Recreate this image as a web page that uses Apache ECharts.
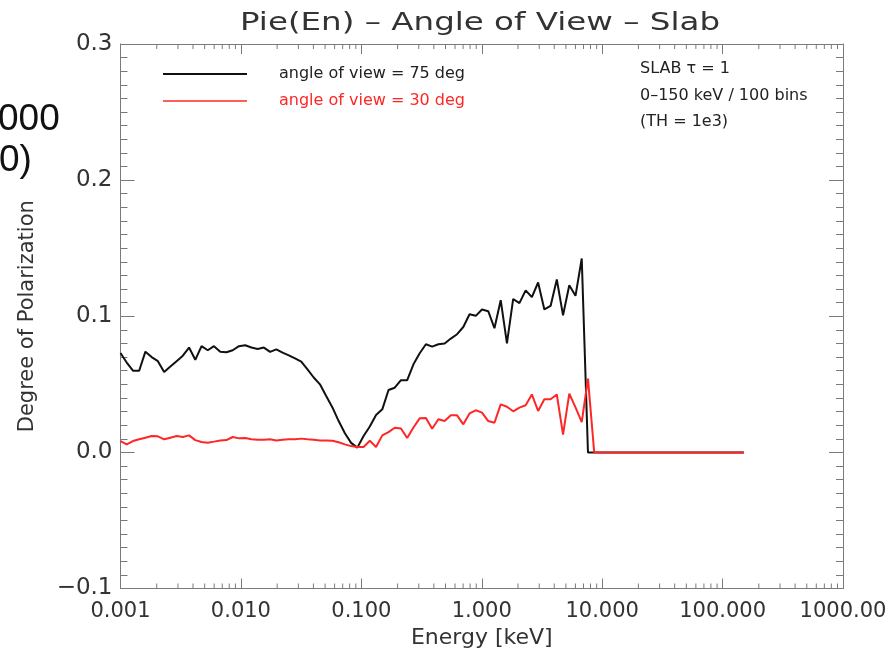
<!DOCTYPE html>
<html>
<head>
<meta charset="utf-8">
<script src="https://cdn.jsdelivr.net/npm/echarts@6/dist/echarts.min.js"></script>
<style>
  html, body { margin: 0; padding: 0; background: #ffffff; }
  #chart { width: 892px; height: 655px; }
</style>
</head>
<body>
<div id="chart"></div>
<script>
// Energy grid [keV]: 101 log-spaced points from 1e-3 to 150 keV
const energy = [
  0.001, 0.001126, 0.001269, 0.001429, 0.00161, 0.001814, 0.002044, 0.002303, 0.002595, 0.002923,
  0.003293, 0.00371, 0.00418, 0.004709, 0.005305, 0.005976, 0.006733, 0.007585, 0.008546, 0.009627,
  0.01085, 0.01222, 0.01377, 0.01551, 0.01747, 0.01968, 0.02217, 0.02498, 0.02814, 0.0317,
  0.03572, 0.04024, 0.04533, 0.05107, 0.05754, 0.06482, 0.07303, 0.08227, 0.09268, 0.1044,
  0.1176, 0.1325, 0.1493, 0.1682, 0.1895, 0.2134, 0.2404, 0.2709, 0.3052, 0.3438,
  0.3873, 0.4363, 0.4916, 0.5538, 0.6239, 0.7029, 0.7918, 0.892, 1.005, 1.132,
  1.275, 1.437, 1.619, 1.824, 2.055, 2.315, 2.608, 2.938, 3.31, 3.729,
  4.201, 4.733, 5.332, 6.006, 6.767, 7.623, 8.588, 9.674, 10.9, 12.28,
  13.83, 15.58, 17.55, 19.78, 22.28, 25.1, 28.28, 31.86, 35.89, 40.44,
  45.55, 51.32, 57.81, 65.13, 73.37, 82.66, 93.12, 104.9, 118.2, 133.1,
  150
];

// Degree of polarization, angle of view = 75 deg
const pol75 = [
  0.073, 0.066, 0.060, 0.060, 0.074, 0.070, 0.067, 0.059, 0.063, 0.067,
  0.071, 0.077, 0.068, 0.078, 0.075, 0.078, 0.074, 0.0735, 0.075, 0.078,
  0.0787, 0.077, 0.076, 0.077, 0.0738, 0.0757, 0.0733, 0.0713, 0.069, 0.0667,
  0.061, 0.055, 0.050, 0.0414, 0.033, 0.023, 0.014, 0.007, 0.0035, 0.012,
  0.019, 0.0274, 0.0316, 0.0458, 0.0475, 0.053, 0.053, 0.0647, 0.0728, 0.0794,
  0.0777, 0.0794, 0.080, 0.0836, 0.0868, 0.0921, 0.1015, 0.1003, 0.105, 0.1037,
  0.0912, 0.1118, 0.080, 0.1127, 0.1096, 0.119, 0.114, 0.1248, 0.105, 0.1076,
  0.127, 0.1007, 0.1228, 0.115, 0.1424, 0, 0, 0, 0, 0,
  0, 0, 0, 0, 0, 0, 0, 0, 0, 0,
  0, 0, 0, 0, 0, 0, 0, 0, 0, 0,
  0
];

// Degree of polarization, angle of view = 30 deg
const pol30 = [
  0.0083, 0.0059, 0.0083, 0.0096, 0.0108, 0.012, 0.0118, 0.0096, 0.0108, 0.012,
  0.0113, 0.0125, 0.009, 0.0076, 0.0071, 0.0079, 0.0088, 0.009, 0.0113, 0.0103,
  0.0105, 0.0096, 0.0092, 0.0092, 0.0096, 0.0088, 0.0092, 0.0096, 0.0096, 0.0101,
  0.0096, 0.0092, 0.0088, 0.0088, 0.0085, 0.0074, 0.0059, 0.0046, 0.0039, 0.004,
  0.0085, 0.004, 0.0125, 0.0149, 0.0181, 0.0176, 0.0105, 0.0183, 0.025, 0.0252,
  0.0174, 0.0243, 0.023, 0.0272, 0.0272, 0.0206, 0.0286, 0.0309, 0.0292, 0.023,
  0.0218, 0.0353, 0.0335, 0.0302, 0.0329, 0.0346, 0.0426, 0.0304, 0.039, 0.039,
  0.0425, 0.013, 0.0432, 0.033, 0.0223, 0.0542, 0, 0, 0, 0,
  0, 0, 0, 0, 0, 0, 0, 0, 0, 0,
  0, 0, 0, 0, 0, 0, 0, 0, 0, 0,
  0
];

const titleText = 'Pie(En) \u2013 Angle of View \u2013 Slab';
const seriesNames = ['angle of view = 75 deg', 'angle of view = 30 deg'];
const xTickValues = [0.001, 0.01, 0.1, 1, 10, 100, 1000];
const xTickLabels = ['0.001', '0.010', '0.100', '1.000', '10.000', '100.000', '1000.00'];
const yTickValues = [-0.1, 0, 0.1, 0.2, 0.3];
const yTickLabels = ['\u22120.1', '0.0', '0.1', '0.2', '0.3'];
const infoLines = ['SLAB \u03c4 = 1', '0\u2013150 keV / 100 bins', '(TH = 1e3)'];

const X_MIN = 0.001, X_MAX = 1000, Y_MIN = -0.1, Y_MAX = 0.3;
const AXIS_COLOR = '#7a7a7a';
const TEXT_COLOR = '#333333';
const BLACK = '#111111';
const RED = '#ff2626';
const FONT = 'DejaVu Sans';

// minor ticks of the log axis: 2..9 within each decade
const logMinor = [];
for (let d = -3; d < 3; d++) {
  for (let m = 2; m <= 9; m++) logMinor.push([m * Math.pow(10, d), Y_MIN]);
}

function xLabel(v) {
  const k = xTickValues.findIndex(t => Math.abs(Math.log10(t) - Math.log10(v)) < 1e-6);
  return k >= 0 ? xTickLabels[k] : '';
}
function yLabel(v) {
  const k = yTickValues.findIndex(t => Math.abs(t - v) < 1e-9);
  return k >= 0 ? yTickLabels[k] : '';
}

const chart = echarts.init(document.getElementById('chart'), null, { renderer: 'canvas' });

const baseX = {
  type: 'log', logBase: 10, min: X_MIN, max: X_MAX,
  axisLine: { show: true, onZero: false, lineStyle: { color: AXIS_COLOR, width: 1 } },
  axisTick: { show: true, inside: true, length: 10, lineStyle: { color: AXIS_COLOR } },
  minorTick: { show: false },
  splitLine: { show: false }
};
const baseY = {
  type: 'value', min: Y_MIN, max: Y_MAX, interval: 0.1,
  axisLine: { show: true, onZero: false, lineStyle: { color: AXIS_COLOR, width: 1 } },
  axisTick: { show: true, inside: true, length: 14, lineStyle: { color: AXIS_COLOR } },
  minorTick: { show: true, splitNumber: 10, length: 7, lineStyle: { color: AXIS_COLOR } },
  splitLine: { show: false }
};
const hiddenMarker = { color: 'rgba(0,0,0,0)', borderWidth: 0, opacity: 0 };

chart.setOption({
  animation: false,
  backgroundColor: '#ffffff',
  grid: { left: 120.5, right: 49, top: 44, bottom: 66.5, containLabel: false },
  legend: {
    orient: 'vertical', left: 157, top: 61,
    itemWidth: 84, itemHeight: 14, itemGap: 11,
    itemStyle: hiddenMarker,
    data: [
      { name: seriesNames[0], textStyle: { color: '#222222' }, itemStyle: hiddenMarker, lineStyle: { width: 2 } },
      { name: seriesNames[1], textStyle: { color: RED }, itemStyle: hiddenMarker, lineStyle: { width: 1.5 } }
    ],
    textStyle: { fontFamily: FONT, fontSize: 16, padding: [0, 0, 0, 27] },
    selectedMode: false
  },
  xAxis: [
    Object.assign({}, baseX, {
      position: 'bottom',
      name: 'Energy [keV]', nameLocation: 'middle', nameGap: 35,
      nameTextStyle: { fontFamily: FONT, fontSize: 22, color: TEXT_COLOR },
      axisLabel: { show: true, margin: 13, formatter: xLabel,
        fontFamily: FONT, fontSize: 21, color: TEXT_COLOR, showMinLabel: true, showMaxLabel: true }
    }),
    Object.assign({}, baseX, { position: 'top', axisLabel: { show: false } })
  ],
  yAxis: [
    Object.assign({}, baseY, {
      position: 'left',
      name: 'Degree of Polarization', nameLocation: 'middle', nameGap: 82, nameRotate: 90,
      nameTextStyle: { fontFamily: FONT, fontSize: 21, color: TEXT_COLOR },
      axisLabel: { show: true, margin: 8, formatter: yLabel,
        fontFamily: FONT, fontSize: 23, color: TEXT_COLOR }
    }),
    Object.assign({}, baseY, { position: 'right', axisLabel: { show: false } })
  ],
  graphic: [
    { type: 'text', x: 480, y: 23, scaleX: 1.3, z: 10,
      style: { text: titleText, fontFamily: FONT, fontSize: 25, fill: TEXT_COLOR,
        align: 'center', verticalAlign: 'middle', textAlign: 'center', textVerticalAlign: 'middle' } },
    { type: 'text', left: 640, top: 61, style: { text: infoLines[0], fontFamily: FONT, fontSize: 16, fill: '#222' } },
    { type: 'text', left: 640, top: 88, style: { text: infoLines[1], fontFamily: FONT, fontSize: 16, fill: '#222' } },
    { type: 'text', left: 640, top: 114, style: { text: infoLines[2], fontFamily: FONT, fontSize: 16, fill: '#222' } },
    { type: 'text', left: -2, top: 101, style: { text: '000', fontFamily: 'Liberation Sans', fontSize: 37, fill: '#111' } },
    { type: 'text', left: -1, top: 142, style: { text: '0)', fontFamily: 'Liberation Sans', fontSize: 37, fill: '#111' } }
  ],
  series: [
    {
      name: seriesNames[0], type: 'line', xAxisIndex: 0, yAxisIndex: 0,
      data: energy.map((e, i) => [e, pol75[i]]),
      symbol: 'none', color: BLACK,
      lineStyle: { color: BLACK, width: 2 }, z: 3
    },
    {
      name: seriesNames[1], type: 'line', xAxisIndex: 0, yAxisIndex: 0,
      data: energy.map((e, i) => [e, pol30[i]]),
      symbol: 'none', color: RED,
      lineStyle: { color: RED, width: 2 }, z: 4
    },
    {
      // log minor ticks on the bottom and top axes
      type: 'custom', xAxisIndex: 0, yAxisIndex: 0, silent: true, clip: false, z: 1,
      data: logMinor,
      renderItem: function (params, api) {
        const v = api.value(0);
        const b = api.coord([v, Y_MIN]);
        const t = api.coord([v, Y_MAX]);
        const st = { stroke: AXIS_COLOR, lineWidth: 1 };
        return {
          type: 'group',
          children: [
            { type: 'line', shape: { x1: b[0], y1: b[1], x2: b[0], y2: b[1] - 5 }, style: st },
            { type: 'line', shape: { x1: t[0], y1: t[1], x2: t[0], y2: t[1] + 5 }, style: st }
          ]
        };
      }
    }
  ]
});
</script>
</body>
</html>
